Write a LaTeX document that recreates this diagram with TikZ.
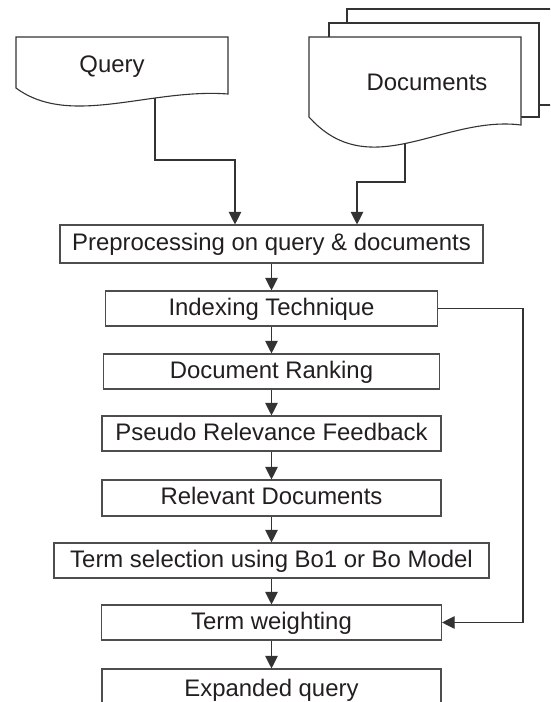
\documentclass[tikz,border=0pt]{standalone}
\usepackage{fontspec}
\setmainfont{Liberation Sans}
\usetikzlibrary{arrows.meta}
\definecolor{lc}{HTML}{333333}
\definecolor{bc}{HTML}{4D4D4D}
\definecolor{tc}{HTML}{231F20}
\begin{document}
\begin{tikzpicture}[x=1pt,y=-1pt,
  box/.style={draw=bc, line width=1.1pt, fill=white, rectangle, inner sep=0pt,
    text height=14pt, text depth=0.6pt, font=\fontsize{23.9pt}{28pt}\selectfont, text=tc},
  conn/.style={draw=lc, line width=1.1pt},
  arr/.style={conn, -{Triangle[length=12.5pt,width=12.5pt]}},
  lbl/.style={font=\fontsize{23.9pt}{28pt}\selectfont, text=tc, anchor=base, inner sep=0pt},
  docshape/.style={draw=lc, line width=1.1pt, fill=white}]
\useasboundingbox (0,0) rectangle (550,702);
\clip (0,0) rectangle (550,702);

\coordinate (qout) at (155,95);
\coordinate (qturn) at (235,160);
\coordinate (dout) at (405,135);
\coordinate (dturn) at (357,182);
\coordinate (fbx) at (523,0);

\node[box, minimum width=423pt, minimum height=38pt] (pre) at (271.5,244) {Preprocessing on query \& documents};
\node[box, minimum width=332pt, minimum height=35pt] (idx) at (271.5,308.5) {Indexing Technique};
\node[box, minimum width=336pt, minimum height=35pt] (rank) at (271.5,371.5) {Document Ranking};
\node[box, minimum width=339pt, minimum height=35pt] (prf) at (271.5,433.5) {Pseudo Relevance Feedback};
\node[box, minimum width=339pt, minimum height=36pt] (rel) at (271.5,498) {Relevant Documents};
\node[box, minimum width=435pt, minimum height=35pt] (sel) at (271.5,560.5) {Term selection using Bo1 or Bo Model};
\node[box, minimum width=340pt, minimum height=35pt] (tw) at (271.5,622.5) {Term weighting};
\node[box, minimum width=339pt, minimum height=42pt] (exp) at (271.5,690) {Expanded query};

\draw[arr] (qout) |- (qturn) -- (qturn |- pre.north);
\draw[arr] (dout) |- (dturn) -- (dturn |- pre.north);
\draw[arr] (pre) -- (idx);
\draw[arr] (idx) -- (rank);
\draw[arr] (rank) -- (prf);
\draw[arr] (prf) -- (rel);
\draw[arr] (rel) -- (sel);
\draw[arr] (sel) -- (tw);
\draw[arr] (tw) -- (exp);
\draw[arr] (idx.east) -- (idx.east -| fbx) -- (tw.east -| fbx) -- (tw.east);

\path[docshape] (347,9) rectangle (560,105);
\path[docshape] (329,23) rectangle (539,117);
\path[docshape] (309,37) -- (521,37) -- (521,125) .. controls (443,115) and (370,185) .. (309,117) -- cycle;
\path[docshape] (16,37) -- (228,37) -- (228,94) .. controls (150,88) and (70,128) .. (16,88) -- cycle;
\node[lbl] (query) at (112,72.5) {Query};
\node[lbl] (docs) at (427,90) {Documents};
\end{tikzpicture}
\end{document}
